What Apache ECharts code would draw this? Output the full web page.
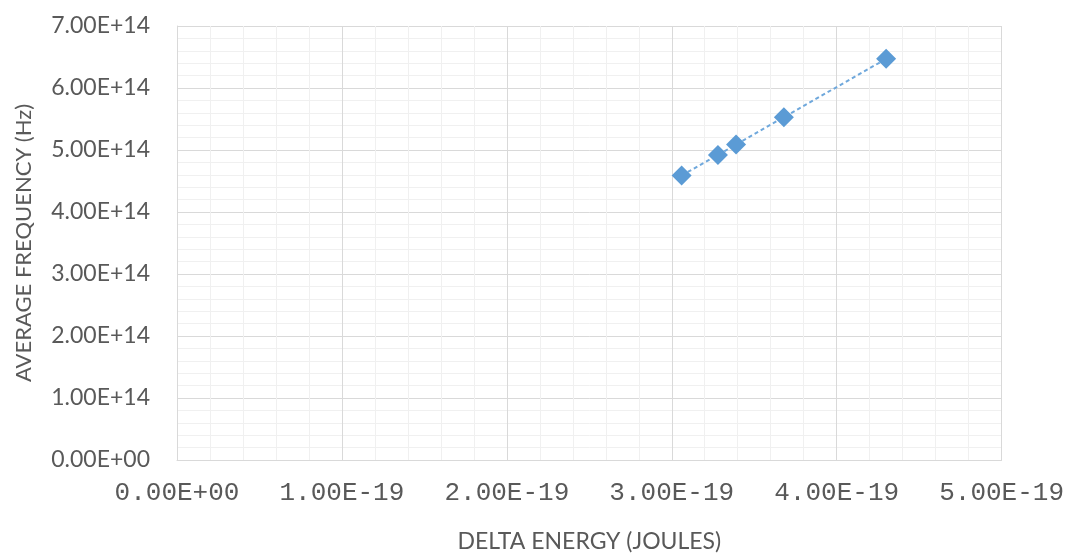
<!DOCTYPE html>
<html>
<head>
<meta charset="utf-8">
<script src="https://cdn.jsdelivr.net/npm/echarts@6/dist/echarts.min.js"></script>
<style>
html,body{margin:0;padding:0;background:#fff;}
#chart{width:1067px;height:558px;}
</style>
</head>
<body>
<div id="chart"></div>
<script>
// Delta energy (J) and average frequency (Hz)
const deltaEnergy = [3.06e-19, 3.28e-19, 3.39e-19, 3.68e-19, 4.30e-19];
const avgFrequency = [4.59e14, 4.92e14, 5.09e14, 5.53e14, 6.47e14];
const xAxisName = 'DELTA ENERGY (JOULES)';
const yAxisName = 'AVERAGE FREQUENCY (Hz)';

function fmtExp(v) {
  let s = Number(v).toExponential(2).toUpperCase();
  return s.replace(/E([+-])(\d)$/, 'E$10$2');
}

const points = deltaEnergy.map((x, i) => [x, avgFrequency[i]]);
const blue = '#5B9BD5';

const chart = echarts.init(document.getElementById('chart'));
chart.setOption({
  animation: false,
  backgroundColor: '#ffffff',
  grid: {left: 177, right: 63, top: 26, bottom: 89, containLabel: false},
  xAxis: {
    type: 'value', min: 0, max: 5e-19, interval: 1e-19,
    name: xAxisName, nameLocation: 'middle', nameGap: 70,
    nameTextStyle: {color: '#595959', fontSize: 23, fontFamily: 'Lato, sans-serif'},
    axisLine: {show: true, lineStyle: {color: '#d9d9d9', width: 1}},
    axisTick: {show: false},
    axisLabel: {formatter: fmtExp, color: '#595959', fontSize: 26, fontFamily: 'Liberation Mono, monospace', margin: 20},
    splitLine: {show: true, lineStyle: {color: '#d9d9d9', width: 1}},
    minorTick: {show: false, splitNumber: 5},
    minorSplitLine: {show: true, lineStyle: {color: '#f0f0f0', width: 1}}
  },
  yAxis: {
    type: 'value', min: 0, max: 7e14, interval: 1e14,
    name: yAxisName, nameLocation: 'middle', nameGap: 142, nameRotate: 90,
    nameTextStyle: {color: '#595959', fontSize: 22, fontFamily: 'Lato, sans-serif'},
    axisLine: {show: true, lineStyle: {color: '#d9d9d9', width: 1}},
    axisTick: {show: false},
    axisLabel: {formatter: fmtExp, color: '#595959', fontSize: 23, fontFamily: 'Lato, sans-serif', margin: 27},
    splitLine: {show: true, lineStyle: {color: '#d9d9d9', width: 1}},
    minorTick: {show: false, splitNumber: 5},
    minorSplitLine: {show: true, lineStyle: {color: '#f0f0f0', width: 1}}
  },
  series: [{
    type: 'line',
    data: points,
    symbol: 'diamond',
    symbolSize: 20,
    itemStyle: {color: blue},
    lineStyle: {color: '#6FA8DC', width: 2, type: [4, 3]},
    z: 3
  }]
});
</script>
</body>
</html>
